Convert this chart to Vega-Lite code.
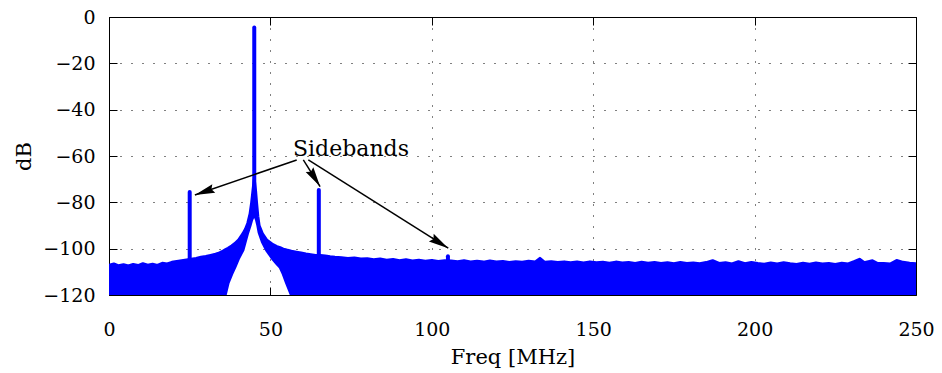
{
  "$schema": "https://vega.github.io/schema/vega-lite/v6.json",
  "width": 807,
  "height": 278,
  "autosize": {"type": "none"},
  "padding": {"left": 109, "top": 17, "right": 26, "bottom": 78},
  "background": "#ffffff",
  "config": {
    "view": {"stroke": "#000000", "strokeWidth": 1},
    "axis": {
      "labelFont": "DejaVu Serif",
      "labelFontSize": 19,
      "labelColor": "#000000",
      "titleFont": "DejaVu Serif",
      "titleFontSize": 21,
      "titleFontWeight": "normal",
      "titleColor": "#000000",
      "tickColor": "#000000",
      "tickWidth": 1,
      "tickSize": -8,
      "gridColor": "#000000",
      "gridOpacity": 1,
      "gridWidth": 1,
      "gridDash": [1, 10],
      "domain": false,
      "labelFlush": false,
      "labelOverlap": false
    }
  },
  "datasets": {
    "floor": [
      {"f": 0, "top": -107.2, "bot": -120},
      {"f": 1.5, "top": -106.6, "bot": -120},
      {"f": 3, "top": -107.4, "bot": -120},
      {"f": 4.5, "top": -106.9, "bot": -120},
      {"f": 6, "top": -107.5, "bot": -120},
      {"f": 7.5, "top": -106.8, "bot": -120},
      {"f": 9, "top": -107.3, "bot": -120},
      {"f": 10.5, "top": -106.5, "bot": -120},
      {"f": 12, "top": -107.1, "bot": -120},
      {"f": 13.5, "top": -106.7, "bot": -120},
      {"f": 15, "top": -107.2, "bot": -120},
      {"f": 16.5, "top": -106.3, "bot": -120},
      {"f": 18, "top": -106.6, "bot": -120},
      {"f": 19.5, "top": -105.9, "bot": -120},
      {"f": 21, "top": -105.5, "bot": -120},
      {"f": 22.5, "top": -105.2, "bot": -120},
      {"f": 24, "top": -104.9, "bot": -120},
      {"f": 25.5, "top": -104.6, "bot": -120},
      {"f": 27, "top": -104.2, "bot": -120},
      {"f": 28.5, "top": -103.7, "bot": -120},
      {"f": 30, "top": -103.4, "bot": -120},
      {"f": 31.5, "top": -102.9, "bot": -120},
      {"f": 33, "top": -102.4, "bot": -120},
      {"f": 34, "top": -102.0, "bot": -120},
      {"f": 35, "top": -101.3, "bot": -120},
      {"f": 36, "top": -100.5, "bot": -120},
      {"f": 36.9, "top": -99.8, "bot": -114.8},
      {"f": 38, "top": -98.8, "bot": -111},
      {"f": 39, "top": -97.8, "bot": -108},
      {"f": 40.2, "top": -96.2, "bot": -104},
      {"f": 41.5, "top": -93.5, "bot": -100.6},
      {"f": 42.3, "top": -91.5, "bot": -96.5},
      {"f": 43, "top": -89, "bot": -93},
      {"f": 43.7, "top": -85, "bot": -90},
      {"f": 44.2, "top": -80, "bot": -87.6},
      {"f": 44.6, "top": -75, "bot": -86.3},
      {"f": 45, "top": -70, "bot": -85.5},
      {"f": 45.4, "top": -75, "bot": -86.3},
      {"f": 45.7, "top": -80, "bot": -87.6},
      {"f": 46.1, "top": -86, "bot": -90},
      {"f": 46.5, "top": -90, "bot": -93},
      {"f": 47.5, "top": -93.5, "bot": -97},
      {"f": 48.8, "top": -96.2, "bot": -100.6},
      {"f": 50.5, "top": -98, "bot": -104},
      {"f": 52, "top": -99.1, "bot": -106.5},
      {"f": 53, "top": -99.6, "bot": -108},
      {"f": 54, "top": -100.2, "bot": -111},
      {"f": 55, "top": -100.6, "bot": -114.8},
      {"f": 56.5, "top": -101.1, "bot": -120},
      {"f": 58, "top": -101.5, "bot": -120},
      {"f": 59.5, "top": -101.9, "bot": -120},
      {"f": 61, "top": -102.3, "bot": -120},
      {"f": 62.5, "top": -102.6, "bot": -120},
      {"f": 64, "top": -102.9, "bot": -120},
      {"f": 65.5, "top": -103.0, "bot": -120},
      {"f": 67, "top": -103.2, "bot": -120},
      {"f": 68.5, "top": -103.5, "bot": -120},
      {"f": 70, "top": -103.7, "bot": -120},
      {"f": 72, "top": -103.9, "bot": -120},
      {"f": 74, "top": -104.2, "bot": -120},
      {"f": 76, "top": -104.0, "bot": -120},
      {"f": 78, "top": -104.5, "bot": -120},
      {"f": 80, "top": -104.3, "bot": -120},
      {"f": 82, "top": -104.8, "bot": -120},
      {"f": 84, "top": -104.5, "bot": -120},
      {"f": 86, "top": -105.0, "bot": -120},
      {"f": 88, "top": -104.7, "bot": -120},
      {"f": 90, "top": -105.2, "bot": -120},
      {"f": 92, "top": -104.8, "bot": -120},
      {"f": 94, "top": -105.3, "bot": -120},
      {"f": 96, "top": -105.0, "bot": -120},
      {"f": 98, "top": -105.4, "bot": -120},
      {"f": 100, "top": -105.1, "bot": -120},
      {"f": 102, "top": -105.5, "bot": -120},
      {"f": 104, "top": -105.2, "bot": -120},
      {"f": 106, "top": -105.3, "bot": -120},
      {"f": 108, "top": -105.6, "bot": -120},
      {"f": 110, "top": -105.2, "bot": -120},
      {"f": 112, "top": -105.7, "bot": -120},
      {"f": 114, "top": -105.4, "bot": -120},
      {"f": 116, "top": -105.8, "bot": -120},
      {"f": 118, "top": -105.3, "bot": -120},
      {"f": 120, "top": -105.7, "bot": -120},
      {"f": 122, "top": -105.5, "bot": -120},
      {"f": 124, "top": -106.0, "bot": -120},
      {"f": 126, "top": -105.6, "bot": -120},
      {"f": 128, "top": -105.9, "bot": -120},
      {"f": 130, "top": -105.4, "bot": -120},
      {"f": 132, "top": -105.8, "bot": -120},
      {"f": 133.5, "top": -104.2, "bot": -120},
      {"f": 135, "top": -105.9, "bot": -120},
      {"f": 137, "top": -105.6, "bot": -120},
      {"f": 139, "top": -106.0, "bot": -120},
      {"f": 141, "top": -105.7, "bot": -120},
      {"f": 143, "top": -106.1, "bot": -120},
      {"f": 145, "top": -105.8, "bot": -120},
      {"f": 147, "top": -106.2, "bot": -120},
      {"f": 149, "top": -105.7, "bot": -120},
      {"f": 151, "top": -106.1, "bot": -120},
      {"f": 153, "top": -105.9, "bot": -120},
      {"f": 155, "top": -106.3, "bot": -120},
      {"f": 157, "top": -105.8, "bot": -120},
      {"f": 159, "top": -106.2, "bot": -120},
      {"f": 161, "top": -106.0, "bot": -120},
      {"f": 163, "top": -106.4, "bot": -120},
      {"f": 165, "top": -105.9, "bot": -120},
      {"f": 167, "top": -106.3, "bot": -120},
      {"f": 169, "top": -106.0, "bot": -120},
      {"f": 171, "top": -106.4, "bot": -120},
      {"f": 173, "top": -106.1, "bot": -120},
      {"f": 175, "top": -106.5, "bot": -120},
      {"f": 177, "top": -106.0, "bot": -120},
      {"f": 179, "top": -106.4, "bot": -120},
      {"f": 181, "top": -106.2, "bot": -120},
      {"f": 183, "top": -106.5, "bot": -120},
      {"f": 185, "top": -106.0, "bot": -120},
      {"f": 187, "top": -105.2, "bot": -120},
      {"f": 189, "top": -106.4, "bot": -120},
      {"f": 191, "top": -106.1, "bot": -120},
      {"f": 193, "top": -106.6, "bot": -120},
      {"f": 195, "top": -105.6, "bot": -120},
      {"f": 197, "top": -106.5, "bot": -120},
      {"f": 199, "top": -106.0, "bot": -120},
      {"f": 201, "top": -106.4, "bot": -120},
      {"f": 203, "top": -106.7, "bot": -120},
      {"f": 205, "top": -106.2, "bot": -120},
      {"f": 207, "top": -106.6, "bot": -120},
      {"f": 209, "top": -106.1, "bot": -120},
      {"f": 211, "top": -106.5, "bot": -120},
      {"f": 213, "top": -106.8, "bot": -120},
      {"f": 215, "top": -106.3, "bot": -120},
      {"f": 217, "top": -106.7, "bot": -120},
      {"f": 219, "top": -106.2, "bot": -120},
      {"f": 221, "top": -106.6, "bot": -120},
      {"f": 223, "top": -106.4, "bot": -120},
      {"f": 225, "top": -106.8, "bot": -120},
      {"f": 227, "top": -106.3, "bot": -120},
      {"f": 229, "top": -106.6, "bot": -120},
      {"f": 231, "top": -105.5, "bot": -120},
      {"f": 232.5, "top": -104.6, "bot": -120},
      {"f": 234, "top": -106.1, "bot": -120},
      {"f": 236.5, "top": -105.2, "bot": -120},
      {"f": 238, "top": -106.3, "bot": -120},
      {"f": 240, "top": -106.4, "bot": -120},
      {"f": 242, "top": -106.6, "bot": -120},
      {"f": 244, "top": -105.1, "bot": -120},
      {"f": 246, "top": -105.9, "bot": -120},
      {"f": 248, "top": -106.3, "bot": -120},
      {"f": 250, "top": -106.5, "bot": -120}
    ],
    "spikes": [
      {"f": 25, "lo": -105, "hi": -75.5},
      {"f": 45, "lo": -86, "hi": -4.5},
      {"f": 65, "lo": -103, "hi": -74.7},
      {"f": 105, "lo": -106, "hi": -103.3}
    ],
    "arrows": [
      {"x1": 58.15, "y1": -61.7, "x2": 26.6, "y2": -76.8},
      {"x1": 60.2, "y1": -61.7, "x2": 65.4, "y2": -73.2},
      {"x1": 61.75, "y1": -61.7, "x2": 105.1, "y2": -99.8}
    ],
    "label": [{"f": 57, "db": -60, "text": "Sidebands"}]
  },
  "layer": [
    {
      "data": {"name": "floor"},
      "mark": {"type": "area", "color": "#0000ff", "stroke": "#0000ff", "strokeWidth": 3, "strokeJoin": "round", "clip": true},
      "encoding": {
        "x": {
          "field": "f", "type": "quantitative",
          "scale": {"domain": [0, 250], "nice": false, "zero": false},
          "axis": {
            "orient": "bottom",
            "values": [0, 50, 100, 150, 200, 250],
            "title": "Freq [MHz]",
            "grid": true,
            "labelPadding": 48,
            "labelBaseline": "alphabetic",
            "titleX": 403.5,
            "titleY": 68,
            "titleAlign": "center",
            "titleBaseline": "alphabetic"
          }
        },
        "y": {
          "field": "top", "type": "quantitative",
          "scale": {"domain": [-120, 0], "nice": false, "zero": false},
          "axis": {
            "orient": "left",
            "values": [-120, -100, -80, -60, -40, -20, 0],
            "title": "dB",
            "grid": true,
            "labelPadding": 22,
            "labelAlign": "right",
            "labelBaseline": "middle",
            "titleAngle": -90,
            "titleX": -79,
            "titleY": 139,
            "titleAlign": "center",
            "titleBaseline": "alphabetic"
          }
        },
        "y2": {"field": "bot"}
      }
    },
    {
      "data": {"name": "spikes"},
      "mark": {"type": "rule", "color": "#0000ff", "strokeWidth": 4, "strokeCap": "round"},
      "encoding": {
        "x": {"field": "f", "type": "quantitative", "scale": {"domain": [0, 250], "nice": false, "zero": false}, "axis": null},
        "y": {"field": "lo", "type": "quantitative", "scale": {"domain": [-120, 0], "nice": false, "zero": false}, "axis": null},
        "y2": {"field": "hi"}
      }
    },
    {
      "data": {"name": "arrows"},
      "mark": {"type": "rule", "color": "#000000", "strokeWidth": 1.5},
      "encoding": {
        "x": {"field": "x1", "type": "quantitative", "scale": {"domain": [0, 250], "nice": false, "zero": false}, "axis": null},
        "y": {"field": "y1", "type": "quantitative", "scale": {"domain": [-120, 0], "nice": false, "zero": false}, "axis": null},
        "x2": {"field": "x2"},
        "y2": {"field": "y2"}
      }
    },
    {
      "data": {"name": "arrows"},
      "transform": [{"filter": "datum.x2 < 40"}],
      "mark": {"type": "point", "shape": "M0,0 L-0.45,2 L0,1.75 L0.45,2 Z", "size": 400, "filled": true, "color": "#000000", "opacity": 1, "angle": 251},
      "encoding": {
        "x": {"field": "x2", "type": "quantitative", "scale": {"domain": [0, 250], "nice": false, "zero": false}, "axis": null},
        "y": {"field": "y2", "type": "quantitative", "scale": {"domain": [-120, 0], "nice": false, "zero": false}, "axis": null}
      }
    },
    {
      "data": {"name": "arrows"},
      "transform": [{"filter": "datum.x2 > 40 && datum.x2 < 80"}],
      "mark": {"type": "point", "shape": "M0,0 L-0.45,2 L0,1.75 L0.45,2 Z", "size": 400, "filled": true, "color": "#000000", "opacity": 1, "angle": 148},
      "encoding": {
        "x": {"field": "x2", "type": "quantitative", "scale": {"domain": [0, 250], "nice": false, "zero": false}, "axis": null},
        "y": {"field": "y2", "type": "quantitative", "scale": {"domain": [-120, 0], "nice": false, "zero": false}, "axis": null}
      }
    },
    {
      "data": {"name": "arrows"},
      "transform": [{"filter": "datum.x2 > 80"}],
      "mark": {"type": "point", "shape": "M0,0 L-0.45,2 L0,1.75 L0.45,2 Z", "size": 400, "filled": true, "color": "#000000", "opacity": 1, "angle": 122},
      "encoding": {
        "x": {"field": "x2", "type": "quantitative", "scale": {"domain": [0, 250], "nice": false, "zero": false}, "axis": null},
        "y": {"field": "y2", "type": "quantitative", "scale": {"domain": [-120, 0], "nice": false, "zero": false}, "axis": null}
      }
    },
    {
      "data": {"name": "label"},
      "mark": {"type": "text", "font": "DejaVu Serif", "fontSize": 22, "color": "#000000", "align": "left", "baseline": "alphabetic"},
      "encoding": {
        "x": {
          "field": "f", "type": "quantitative",
          "scale": {"domain": [0, 250], "nice": false, "zero": false},
          "axis": {"orient": "top", "values": [0, 50, 100, 150, 200, 250], "labels": false, "grid": false, "title": null, "ticks": true}
        },
        "y": {
          "field": "db", "type": "quantitative",
          "scale": {"domain": [-120, 0], "nice": false, "zero": false},
          "axis": {"orient": "right", "values": [-120, -100, -80, -60, -40, -20, 0], "labels": false, "grid": false, "title": null, "ticks": true}
        },
        "text": {"field": "text"}
      }
    }
  ],
  "resolve": {"axis": {"x": "independent", "y": "independent"}}
}
